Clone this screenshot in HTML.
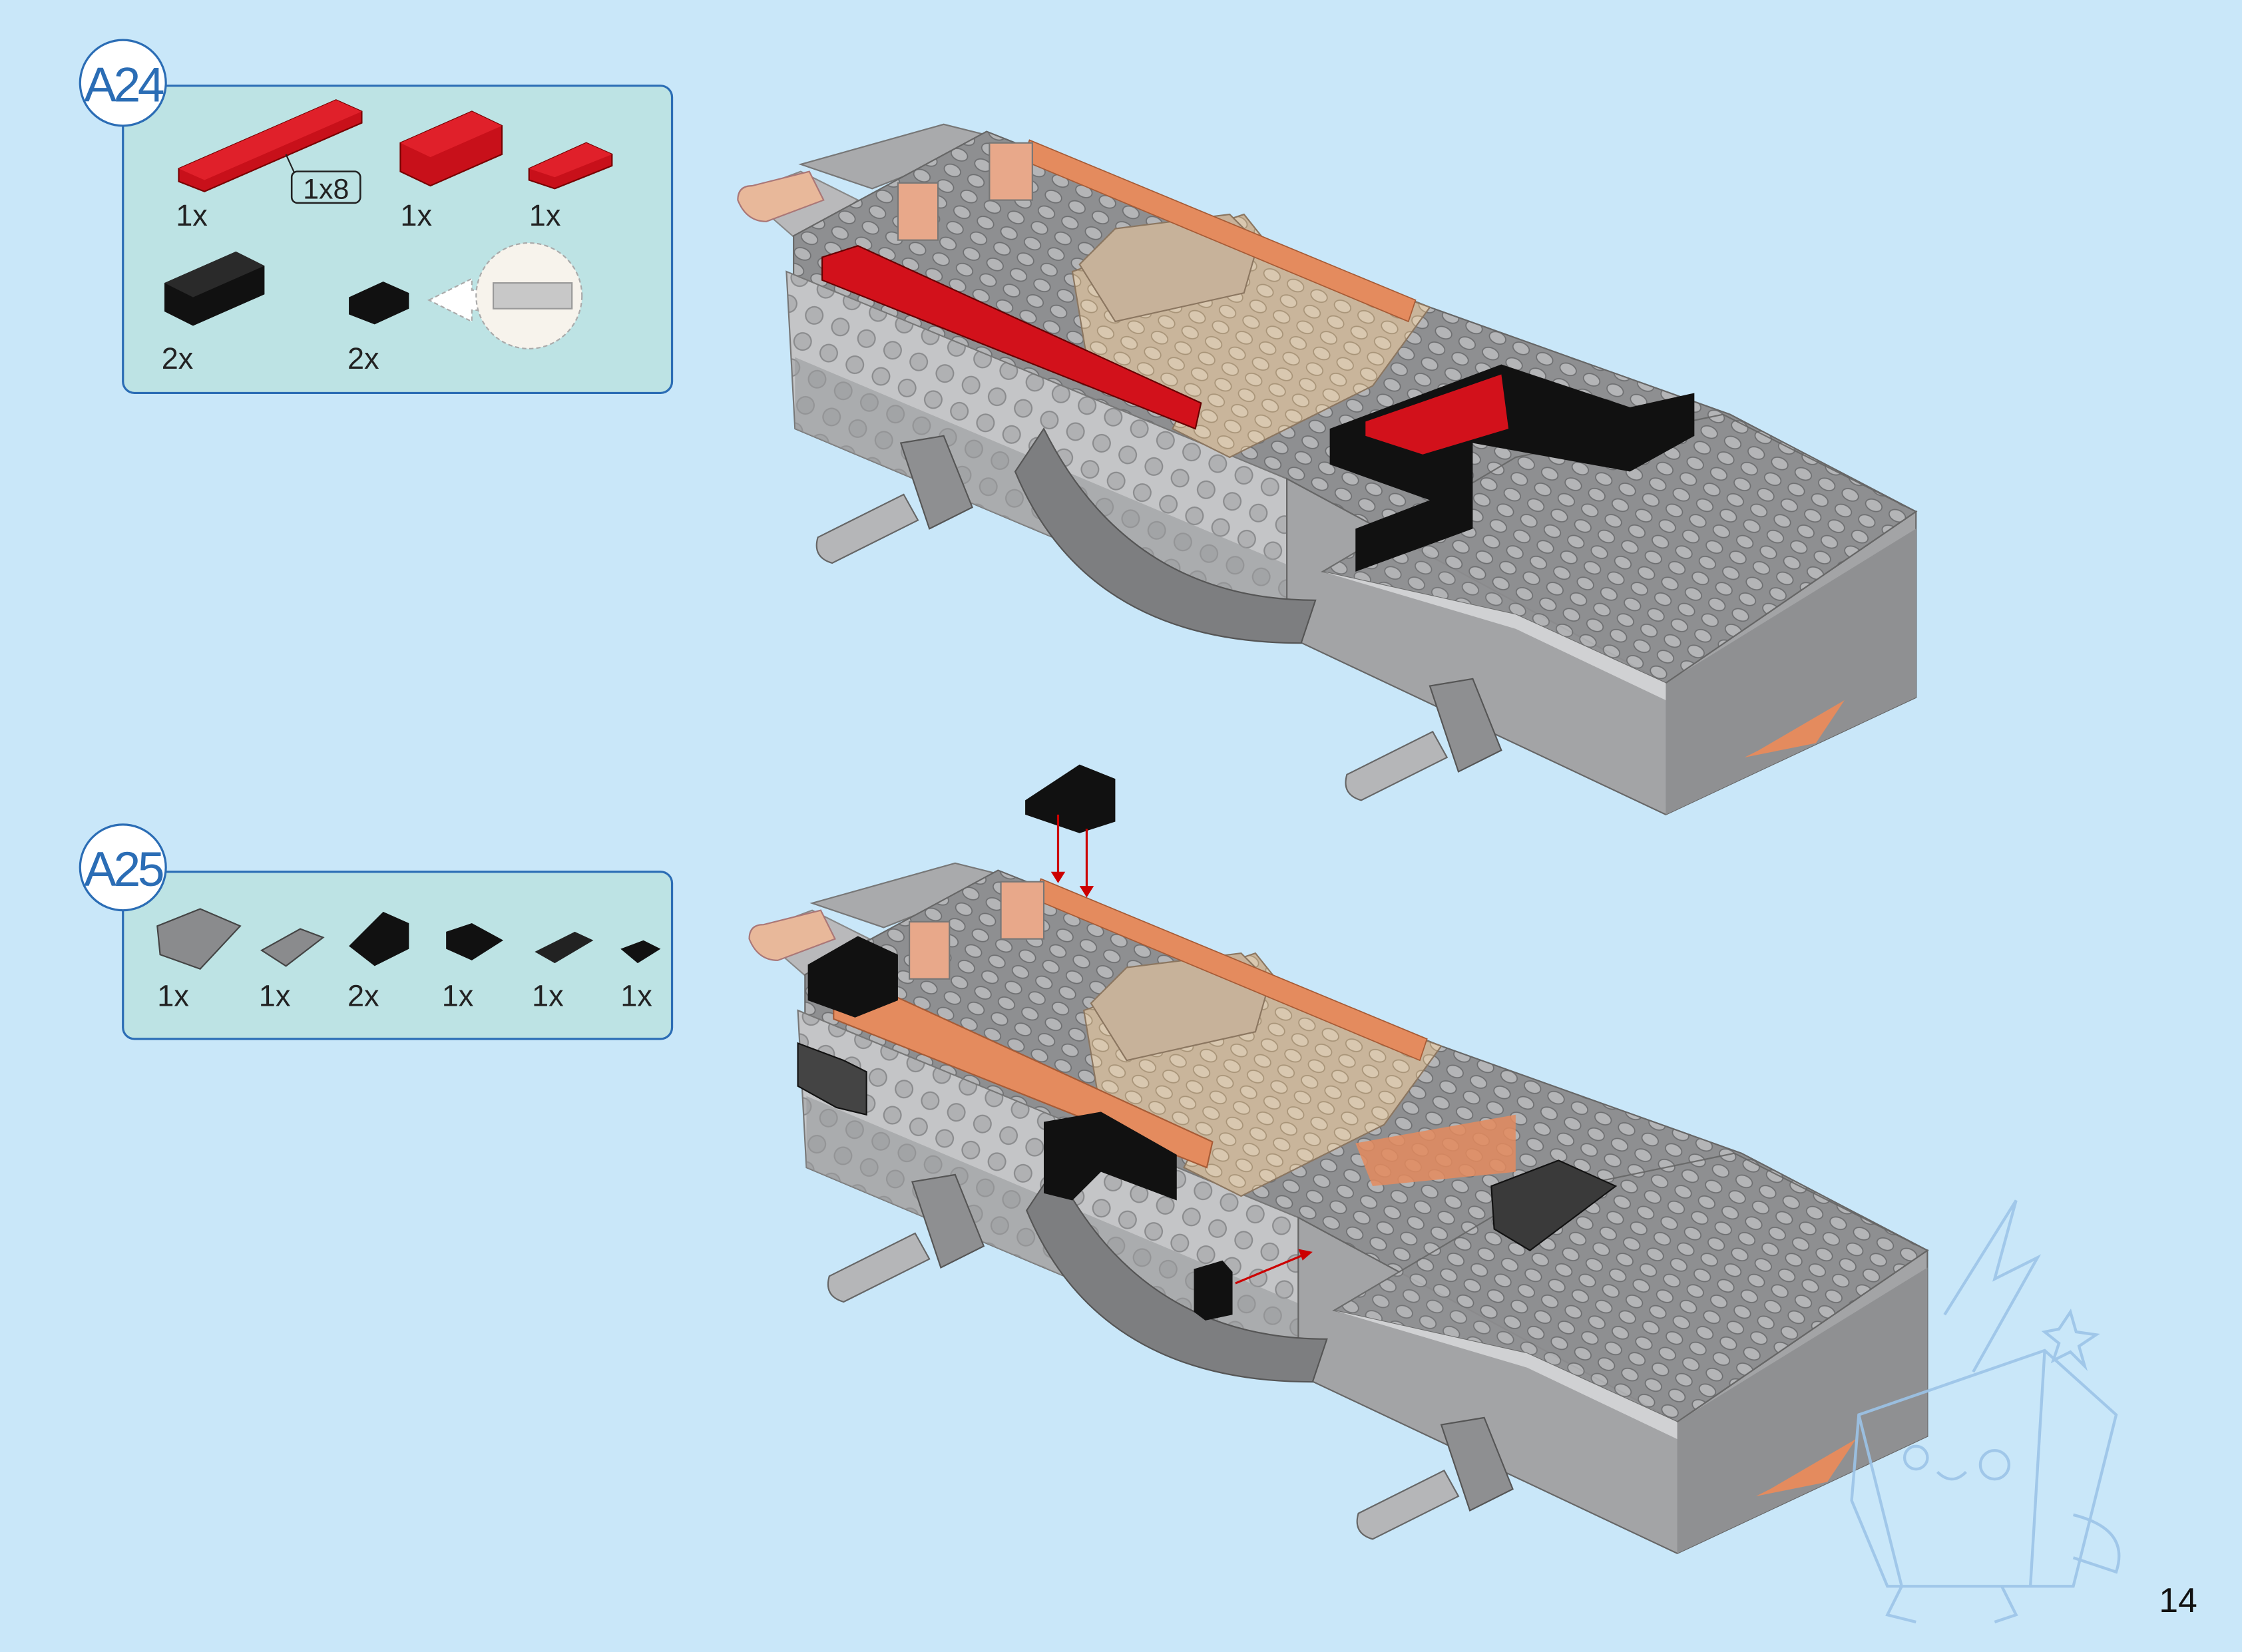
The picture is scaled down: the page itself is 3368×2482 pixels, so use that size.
<!DOCTYPE html>
<html><head><meta charset="utf-8"><style>
html,body{margin:0;padding:0;background:#c9e7f9;}
svg{display:block;}
text{font-family:"Liberation Sans",sans-serif;}
</style></head><body>
<svg width="3368" height="2482" viewBox="0 0 1568 1156" preserveAspectRatio="none" xmlns="http://www.w3.org/2000/svg">
<defs>
<pattern id="studs" width="18" height="12" patternUnits="userSpaceOnUse" patternTransform="rotate(24)">
<rect width="18" height="12" fill="#8e8f91"/>
<ellipse cx="9" cy="6" rx="6" ry="4" fill="#b4b5b7" stroke="#6e6f71" stroke-width="0.8"/>
</pattern>
<pattern id="holes" width="20" height="20" patternUnits="userSpaceOnUse" patternTransform="rotate(24)">
<rect width="20" height="20" fill="#c4c5c7"/>
<circle cx="10" cy="10" r="6" fill="#b0b1b3" stroke="#8a8b8d" stroke-width="1"/>
</pattern>
<pattern id="tstuds" width="18" height="12" patternUnits="userSpaceOnUse" patternTransform="rotate(24)">
<rect width="18" height="12" fill="#c9b59b"/>
<ellipse cx="9" cy="6" rx="6" ry="4" fill="#d9c8b0" stroke="#a89478" stroke-width="0.8"/>
</pattern>
<g id="ship">
<!-- rear nozzles -->
<path d="M520,135 L560,120 L600,140 L560,170 Z" fill="#b9b9bb" stroke="#888" stroke-width="1"/>
<path d="M516,140 q0,-10 10,-10 l40,-10 l10,20 l-40,15 q-14,0 -20,-15z" fill="#e8b89a" stroke="#a77" stroke-width="1"/>
<path d="M560,115 l100,-28 l40,10 l-90,35z" fill="#a9aaac" stroke="#777" stroke-width="1"/>
<!-- top surface -->
<path d="M555,165 L690,92 L1000,215 L1210,290 L1340,358 L1165,478 L900,335 L555,195 Z" fill="url(#studs)" stroke="#666" stroke-width="1"/>
<!-- left side face -->
<path d="M550,190 L900,335 L900,445 L556,300 Z" fill="url(#holes)" stroke="#777" stroke-width="1"/>
<path d="M556,250 L900,395 L900,445 L556,300 Z" fill="#9a9b9d" opacity="0.6"/>
<!-- right/lower face -->
<path d="M900,335 L1165,478 L1340,358 L1340,488 L1165,570 L900,445 Z" fill="#a3a4a6" stroke="#666" stroke-width="1"/>
<path d="M1165,478 L1340,370 L1340,488 L1165,570 Z" fill="#8f9092"/>
<path d="M1230,525 l60,-35 l-20,30 l-50,10z" fill="#e48b5e"/>
<!-- right light deck -->
<path d="M925,400 L1060,320 L1205,290 L1340,358 L1165,478 L1060,430 Z" fill="url(#studs)" stroke="#666" stroke-width="1" opacity="0.9"/>
<path d="M925,400 L1060,440 L1165,490 L1165,478 L1060,430 Z" fill="#d0d1d3"/>
<!-- underside curve -->
<path d="M730,300 q60,120 190,120 l-10,30 q-150,0 -200,-120z" fill="#7d7e80" stroke="#555" stroke-width="1"/>
<!-- axles -->
<path d="M630,310 l30,-5 l20,50 l-30,15 z" fill="#8e8f91" stroke="#555"/>
<path d="M572,376 l60,-30 l10,18 l-60,30 q-14,-4 -10,-18z" fill="#b5b6b8" stroke="#666"/>
<path d="M1000,480 l30,-5 l20,50 l-30,15 z" fill="#8e8f91" stroke="#555"/>
<path d="M942,542 l60,-30 l10,18 l-60,30 q-14,-4 -10,-18z" fill="#b5b6b8" stroke="#666"/>
<!-- tan cockpit -->
<path d="M750,190 L870,150 L890,175 L1000,215 L960,270 L860,320 L820,300 L830,280 L760,250 Z" fill="url(#tstuds)" stroke="#8b7660" stroke-width="1"/>
<path d="M755,185 l25,-25 l80,-10 l20,20 l-10,35 l-90,20z" fill="#c7b29a" stroke="#8b7660"/>
<!-- orange edge -->
<path d="M720,98 L990,210 L985,225 L715,112Z" fill="#e48b5e" stroke="#a65b36" stroke-width="0.8"/>
<!-- canisters -->
<rect x="628" y="128" width="28" height="40" fill="#e8a88a" stroke="#777"/>
<rect x="692" y="100" width="30" height="40" fill="#e8a88a" stroke="#777"/>
</g>
</defs>

<!-- A24 panel -->
<rect x="86" y="60" width="384" height="215" rx="8" fill="#bde3e4" stroke="#2b6db5" stroke-width="1.5"/>
<circle cx="86" cy="58" r="30" fill="#fff" stroke="#2b6db5" stroke-width="1.5"/>
<text x="86" y="71" font-size="34" fill="#2b6db5" text-anchor="middle" letter-spacing="-2">A24</text>
<!-- 1x8 red plate -->
<path d="M125,118 L235,70 L253,78 L253,86 L143,134 L125,127Z" fill="#c8101a" stroke="#700" stroke-width="1"/>
<path d="M125,118 L235,70 L253,78 L143,126Z" fill="#e0202a"/>
<path d="M200,108 l10,22" stroke="#222" fill="none"/>
<rect x="204" y="120" width="48" height="22" rx="4" fill="#bde3e4" stroke="#222" stroke-width="1.2"/>
<text x="228" y="139" font-size="20" text-anchor="middle" fill="#222">1x8</text>
<path d="M280,100 L330,78 L351,88 L351,108 L301,130 L280,120Z" fill="#c8101a" stroke="#700"/>
<path d="M280,100 L330,78 L351,88 L301,110Z" fill="#e0202a"/>
<path d="M370,118 L410,100 L428,108 L428,116 L388,132 L370,126Z" fill="#c8101a" stroke="#700"/>
<path d="M370,118 L410,100 L428,108 L388,124Z" fill="#e0202a"/>
<text x="123" y="158" font-size="21" fill="#222">1x</text>
<text x="280" y="158" font-size="21" fill="#222">1x</text>
<text x="370" y="158" font-size="21" fill="#222">1x</text>
<path d="M115,198 L165,176 L185,186 L185,206 L135,228 L115,218Z" fill="#111"/>
<path d="M115,198 L165,176 L185,186 L135,208Z" fill="#2a2a2a"/>
<path d="M244,208 L268,197 L286,205 L286,216 L262,227 L244,220Z" fill="#111"/>
<path d="M300,210 l30,-15 l0,8 l20,0 l0,14 l-20,0 l0,8z" fill="#fff" stroke="#aaa" stroke-dasharray="3,2"/>
<circle cx="370" cy="207" r="37" fill="#f7f3ec" stroke="#aaa" stroke-dasharray="3,2"/>
<rect x="345" y="198" width="55" height="18" fill="#c8c8c8" stroke="#999"/>
<text x="113" y="258" font-size="21" fill="#222">2x</text>
<text x="243" y="258" font-size="21" fill="#222">2x</text>

<!-- A25 panel -->
<rect x="86" y="610" width="384" height="117" rx="8" fill="#bde3e4" stroke="#2b6db5" stroke-width="1.5"/>
<circle cx="86" cy="607" r="30" fill="#fff" stroke="#2b6db5" stroke-width="1.5"/>
<text x="86" y="620" font-size="34" fill="#2b6db5" text-anchor="middle" letter-spacing="-2">A25</text>
<path d="M110,648 L140,636 L168,648 L140,678 L112,668Z" fill="#8a8b8d" stroke="#444"/>
<path d="M183,665 L210,650 L226,656 L200,676Z" fill="#8a8b8d" stroke="#444"/>
<path d="M244,662 L268,638 L286,646 L286,664 L262,676Z" fill="#111"/>
<path d="M312,652 L330,646 L352,658 L330,672 L312,664Z" fill="#111"/>
<path d="M374,666 L402,652 L415,658 L388,674Z" fill="#222"/>
<path d="M434,664 L450,658 L462,664 L446,674Z" fill="#111"/>
<text x="110" y="704" font-size="21" fill="#222">1x</text>
<text x="181" y="704" font-size="21" fill="#222">1x</text>
<text x="243" y="704" font-size="21" fill="#222">2x</text>
<text x="309" y="704" font-size="21" fill="#222">1x</text>
<text x="372" y="704" font-size="21" fill="#222">1x</text>
<text x="434" y="704" font-size="21" fill="#222">1x</text>

<!-- Top ship -->
<use href="#ship"/>
<path d="M575,180 L600,172 L840,282 L836,300 L575,196Z" fill="#d2111b" stroke="#600" stroke-width="1"/>
<path d="M930,300 L1050,255 L1140,285 L1185,275 L1185,305 L1140,330 L1030,310 L1030,370 L948,400 L948,370 L1000,350 L930,325Z" fill="#111"/>
<path d="M955,295 L1050,262 L1055,300 L995,318 L955,305Z" fill="#d2111b"/>

<!-- Bottom ship -->
<g transform="translate(8,517)"><use href="#ship"/></g>
<path d="M583,697 L608,689 L848,799 L844,817 L583,713Z" fill="#e48b5e" stroke="#a65b36" stroke-width="1"/>
<path d="M565,675 L600,655 L628,668 L628,700 L598,712 L565,700Z" fill="#111"/>
<path d="M558,730 L590,742 L606,750 L606,780 L585,775 L558,760Z" fill="#444" stroke="#111"/>
<path d="M730,785 L770,778 L823,808 L823,840 L770,820 L750,840 L730,835Z" fill="#111"/>
<path d="M835,888 L855,882 L862,890 L862,920 L843,924 L835,918Z" fill="#111"/>
<path d="M1043,830 L1090,812 L1130,830 L1090,860 L1070,875 L1045,860Z" fill="#3a3a3a" stroke="#111"/>
<path d="M948,800 L1060,780 L1060,820 L960,830Z" fill="#e48b5e" opacity="0.85"/>
<!-- falling brick + arrows -->
<path d="M717,560 L755,535 L780,545 L780,575 L755,583 L717,570Z" fill="#111"/>
<path d="M740,570 L740,612 M760,580 L760,622" stroke="#c00" stroke-width="1.5"/>
<path d="M735,610 l5,8 l5,-8z M755,620 l5,8 l5,-8z" fill="#c00"/>
<path d="M864,898 L912,878" stroke="#c00" stroke-width="1.5"/>
<path d="M918,876 l-10,-2 l3,8z" fill="#c00"/>

<!-- mascot sketch -->
<g fill="none" stroke="#9cc4e8" stroke-width="2" opacity="0.9">
<path d="M1360,920 L1410,840 L1395,895 L1425,880 L1380,960"/>
<path d="M1440,930 l8,-12 l4,14 l14,2 l-12,8 l4,14 l-10,-10 l-12,6 l4,-12 l-10,-8z"/>
<path d="M1300,990 L1430,945 L1480,990 L1450,1110 L1320,1110 L1295,1050Z"/>
<path d="M1300,990 L1330,1110 M1430,945 L1420,1110"/>
<circle cx="1340" cy="1020" r="8"/><circle cx="1395" cy="1025" r="10"/>
<path d="M1355,1030 q10,10 20,0"/>
<path d="M1330,1110 l-10,20 l20,5 M1400,1110 l10,20 l-15,5"/>
<path d="M1450,1060 q40,10 30,40 l-30,-10"/>
</g>
<text x="1510" y="1128" font-size="24" fill="#111">14</text>
</svg>
</body></html>
